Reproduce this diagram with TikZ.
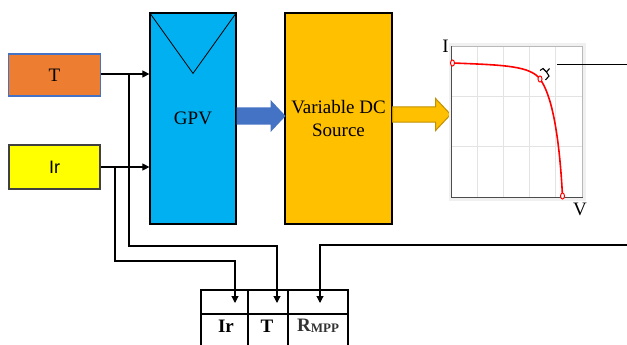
\documentclass[tikz,border=0pt]{standalone}
\usepackage{fontspec}
\setmainfont{Liberation Serif}
\newfontfamily\arialfont{Liberation Sans}
\usetikzlibrary{arrows.meta, positioning, calc}
\definecolor{corange}{HTML}{ED7D31}
\definecolor{cyellow}{HTML}{FFFF00}
\definecolor{cpv}{HTML}{00B0F0}
\definecolor{cgold}{HTML}{FFC000}
\definecolor{cgolddark}{HTML}{BF9000}
\definecolor{cblue}{HTML}{4472C4}
\definecolor{cedge}{HTML}{404040}
\tikzset{
  every picture/.style={line width=1pt},
  blk/.style={draw=#1, line width=1.2pt, inner sep=0pt},
  blk/.default=black,
  arrow/.style={-{Triangle[length=7pt, width=7pt]}, draw=black, line width=1.1pt},
  tabline/.style={draw=black, line width=2pt},
  gridline/.style={draw=gray!22, line width=0.8pt},
  curve/.style={draw=red, line width=1.6pt},
  marker/.style={draw=red, line width=1pt, fill=white},
  lbl/.style={font=\fontsize{19}{24}\selectfont, align=center},
  tabtext/.style={font=\fontsize{19}{20}\selectfont\bfseries},
}
% block arrow: style, tail point, length, half shaft, head overhang
\newcommand{\fatarrow}[5]{%
  \draw[#1] #2 ++(0,-#4) -- ++({#3-15},0) -- ++(0,-#5) -- ++(15,{#4+#5})
    -- ++(-15,{#4+#5}) -- ++(0,-#5) -- ++({15-#3},0) -- cycle;}

\begin{document}
\begin{tikzpicture}[x=1pt, y=-1pt]
  \useasboundingbox (0,0) rectangle (627,345);
  \clip (0,0) rectangle (627,345);

  % inputs
  \node[blk=cblue, fill=corange, minimum width=92pt, minimum height=42pt, lbl] (T) at (54.5,75) {T};
  \node[blk=cedge, fill=cyellow, minimum width=91pt, minimum height=44pt,
        font=\arialfont\fontsize{18}{20}\selectfont] (Ir) at (54.5,167) {Ir};

  % PV generator and DC source
  \node[blk, fill=cpv, minimum width=86pt, minimum height=211pt, lbl] (gpv) at (193,118.5) {GPV};
  \draw[line width=0.8pt] (gpv.north west) -- ($(gpv.north)+(0,61)$) -- (gpv.north east);
  \node[blk, fill=cgold, minimum width=107pt, minimum height=211pt, lbl] (dc) at (338.5,118.5) {Variable DC\\[-1pt]Source};

  \fatarrow{fill=cblue, draw=none}{($(gpv.east)+(0,-2.5)$)}{49}{8.5}{7.5}
  \fatarrow{fill=cgold, draw=cgolddark, line width=1pt}{($(dc.east)+(0,-4)$)}{58}{7.5}{8.5}

  % I-V curve
  \fill[gray!12] (448.5,43.5) rectangle (585.5,200.5);
  \node[fill=white, minimum width=130pt, minimum height=150pt, inner sep=0pt] (iv) at (517,122) {};
  \foreach \i in {1,...,4}
    \draw[gridline] ($(iv.north west)+(26*\i,0)$) -- ($(iv.south west)+(26*\i,0)$);
  \foreach \j in {50,100}
    \draw[gridline] ($(iv.north west)+(0,\j)$) -- ($(iv.north east)+(0,\j)$);
  \draw[gray!55, line width=0.9pt] (iv.north west) -- (iv.north east) -- (iv.south east);
  \draw[black!70, line width=1.1pt] (iv.north west) -- (iv.south west) -- (iv.south east);
  \node[lbl, anchor=center] (ilab) at (445.5,46) {I};
  \node[lbl, anchor=center] (vlab) at (580,209) {V};
  \coordinate (isc) at (452.5,63);
  \coordinate (mpp) at (540,79);
  \coordinate (voc) at (562.5,196);
  \draw[curve] (isc) .. controls (505,65) and (530,66) .. (mpp)
    .. controls (551,94) and (559,130) .. (voc);
  \foreach \p in {isc, mpp, voc}
    \draw[marker] (\p) ellipse (2pt and 3pt);
  \draw[line width=1.1pt] (540,70.5) -- (543,68.5) -- (546.5,72) -- (549.5,68.5)
    (546.5,72) -- (549,76) -- (545.5,80);

  % outgoing and returning lines
  \coordinate (out1) at (557,65);
  \coordinate (out2) at (627,65);
  \draw (out1) -- (out2);

  % table of Ir, T, Rmpp
  \node[tabline, minimum width=147pt, minimum height=90pt, anchor=north west, inner sep=0pt] (tab) at (200,289) {};
  \draw[tabline] ($(tab.north west)+(0,25)$) -- ($(tab.north east)+(0,25)$);
  \draw[tabline] ($(tab.north west)+(48,0)$) -- ($(tab.south west)+(48,0)$);
  \draw[tabline] ($(tab.north west)+(88,0)$) -- ($(tab.south west)+(88,0)$);
  \node[tabtext] (tIr) at (226,326) {Ir};
  \node[tabtext] (tT) at (267,326) {T};
  \node[tabtext, text=black!80] (tR) at (318,326)
    {R\raisebox{-1.5pt}{\fontsize{13}{13}\selectfont MPP}};
  \coordinate (inIr) at (235,303);
  \coordinate (inT) at (277,303);
  \coordinate (inR) at (320,303);

  % feed lines
  \coordinate (jT) at (129,74);
  \coordinate (jIr) at (115,167);
  \draw[arrow] ($(T.east)+(0,-1)$) -- (gpv.west |- jT);
  \draw[arrow] (Ir.east) -- (gpv.west |- jIr);
  \draw[arrow] (jT) -- (129,246) -| (inT);
  \draw[arrow] (jIr) -- (115,261) -| (inIr);
  \coordinate (rIn) at (627,245);
  \draw[arrow] (rIn) -| (inR);
\end{tikzpicture}
\end{document}
